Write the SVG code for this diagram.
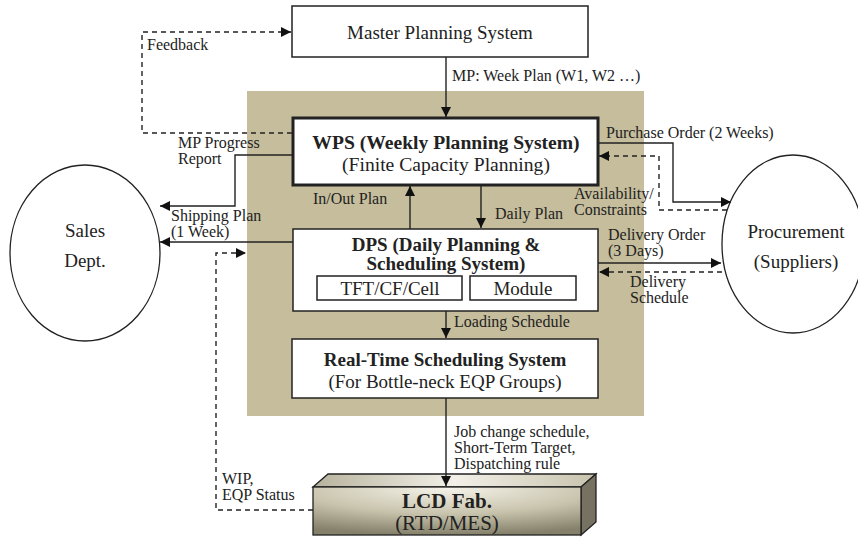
<svg xmlns="http://www.w3.org/2000/svg" width="858" height="537" viewBox="0 0 858 537">
  <defs>
    <style>
      .box { fill: #ffffff; stroke: #222; stroke-width: 1.5; }
      .thick { stroke-width: 3; }
      .ell { fill: #ffffff; stroke: #222; stroke-width: 1.3; }
      .ln { fill: none; stroke: #222; stroke-width: 1.4; }
      .dash { fill: none; stroke: #222; stroke-width: 1.4; stroke-dasharray: 5 4; }
      text { font-family: "Liberation Serif", "Times New Roman", serif; fill: #222; }
      .lbl { font-size: 16px; }
      .ttl { font-size: 19px; }
      .big { font-size: 19.6px; }
      .b { font-weight: bold; }
      .c { text-anchor: middle; }
    </style>
    <marker id="ah" viewBox="0 0 10 10" refX="10" refY="5" markerWidth="10" markerHeight="10" markerUnits="userSpaceOnUse" orient="auto">
      <path d="M0,0 L10,5 L0,10 z" fill="#111"/>
    </marker>
    <radialGradient id="fabFront" cx="0.5" cy="0" r="1" fx="0.5" fy="0">
      <stop offset="0" stop-color="#f6f4ec"/>
      <stop offset="0.55" stop-color="#c9c4ad"/>
      <stop offset="1" stop-color="#858069"/>
    </radialGradient>
    <linearGradient id="fabTop" x1="0" y1="0" x2="1" y2="0">
      <stop offset="0" stop-color="#b7b29c"/>
      <stop offset="0.5" stop-color="#f2f0e8"/>
      <stop offset="1" stop-color="#c8c3ad"/>
    </linearGradient>
  </defs>

  <!-- planning platform backdrop -->
  <rect x="247" y="91" width="397" height="325" fill="#c5bd9b"/>

  <g id="master-planning">
    <rect class="box" x="292" y="6" width="296" height="51"/>
    <text class="ttl c" x="440" y="39">Master Planning System</text>
  </g>

  <g id="wps">
    <rect class="box thick" x="293" y="118" width="305" height="67"/>
    <text class="big b c" x="446" y="149">WPS (Weekly Planning System)</text>
    <text class="big c" x="446" y="171">(Finite Capacity Planning)</text>
  </g>

  <g id="dps">
    <rect class="box" x="293" y="229" width="305" height="82"/>
    <text class="ttl b c" x="446" y="251">DPS (Daily Planning &amp;</text>
    <text class="ttl b c" x="446" y="270">Scheduling System)</text>
    <rect class="box" x="317" y="276" width="145" height="24" stroke-width="1.2"/>
    <text class="ttl c" x="390" y="295">TFT/CF/Cell</text>
    <rect class="box" x="470" y="276" width="106" height="24" stroke-width="1.2"/>
    <text class="ttl c" x="523" y="295">Module</text>
  </g>

  <g id="rts">
    <rect class="box" x="292" y="339" width="306" height="59"/>
    <text class="ttl b c" x="445" y="366">Real-Time Scheduling System</text>
    <text class="ttl c" x="445" y="388">(For Bottle-neck EQP Groups)</text>
  </g>

  <g id="sales">
    <ellipse class="ell" cx="85" cy="253" rx="75" ry="88"/>
    <text class="ttl c" x="85" y="237">Sales</text>
    <text class="ttl c" x="85" y="267">Dept.</text>
  </g>

  <g id="procurement">
    <ellipse class="ell" cx="793" cy="244" rx="71" ry="89"/>
    <text class="ttl c" x="796" y="238">Procurement</text>
    <text class="ttl c" x="796" y="268">(Suppliers)</text>
  </g>

  <g id="lcd-fab">
    <polygon points="313,487 328,474 596,474 581,487" fill="url(#fabTop)" stroke="#222" stroke-width="1.3"/>
    <polygon points="581,487 596,474 596,522 581,535" fill="#767160" stroke="#222" stroke-width="1.3"/>
    <rect x="313" y="487" width="268" height="48" fill="url(#fabFront)" stroke="#222" stroke-width="1.3"/>
    <text class="c b" x="447" y="508" font-size="21">LCD Fab.</text>
    <text class="c" x="447" y="530" font-size="21">(RTD/MES)</text>
  </g>

  <g id="connectors">
    <!-- feedback to master planning -->
    <path class="dash" d="M292,133 H142 V32 H291" marker-end="url(#ah)"/>
    <!-- master plan down to WPS -->
    <path class="ln" d="M446,57 V117" marker-end="url(#ah)"/>
    <!-- WPS progress report to sales -->
    <path class="ln" d="M293,155 H235 V206 H160" marker-end="url(#ah)"/>
    <!-- shipping plan to sales -->
    <path class="ln" d="M293,242 H160" marker-end="url(#ah)"/>
    <!-- DPS in/out plan up to WPS -->
    <path class="ln" d="M410,229 V186" marker-end="url(#ah)"/>
    <!-- WPS daily plan down to DPS -->
    <path class="ln" d="M481,185 V228" marker-end="url(#ah)"/>
    <!-- DPS loading schedule down to RTS -->
    <path class="ln" d="M446,311 V338" marker-end="url(#ah)"/>
    <!-- RTS down to fab -->
    <path class="ln" d="M446,398 V486" marker-end="url(#ah)"/>
    <!-- WIP / EQP status feedback -->
    <path class="dash" d="M313,510 H216 V253 H246" marker-end="url(#ah)"/>
    <!-- purchase order -->
    <path class="ln" d="M598,143 H673 V202 H731" marker-end="url(#ah)"/>
    <!-- availability / constraints -->
    <path class="dash" d="M727,210 H659 V156 H599" marker-end="url(#ah)"/>
    <!-- delivery order -->
    <path class="ln" d="M598,263 H721" marker-end="url(#ah)"/>
    <!-- delivery schedule -->
    <path class="dash" d="M722,272 H599" marker-end="url(#ah)"/>
  </g>

  <g id="labels">
    <text class="lbl" x="147" y="50">Feedback</text>
    <text class="lbl" x="452" y="81">MP: Week Plan (W1, W2 …)</text>
    <text class="lbl" x="178" y="148">MP Progress</text>
    <text class="lbl" x="178" y="164">Report</text>
    <text class="lbl" x="171" y="221">Shipping Plan</text>
    <text class="lbl" x="171" y="237">(1 Week)</text>
    <text class="lbl" x="313" y="204">In/Out Plan</text>
    <text class="lbl" x="495" y="219">Daily Plan</text>
    <text class="lbl" x="606" y="138">Purchase Order (2 Weeks)</text>
    <text class="lbl" x="574" y="199">Availability/</text>
    <text class="lbl" x="574" y="215">Constraints</text>
    <text class="lbl" x="608" y="240">Delivery Order</text>
    <text class="lbl" x="608" y="256">(3 Days)</text>
    <text class="lbl" x="630" y="287">Delivery</text>
    <text class="lbl" x="630" y="303">Schedule</text>
    <text class="lbl" x="454" y="327">Loading Schedule</text>
    <text class="lbl" x="454" y="437">Job change schedule,</text>
    <text class="lbl" x="454" y="453">Short-Term Target,</text>
    <text class="lbl" x="454" y="469">Dispatching rule</text>
    <text class="lbl" x="222" y="484">WIP,</text>
    <text class="lbl" x="222" y="500">EQP Status</text>
  </g>
</svg>
